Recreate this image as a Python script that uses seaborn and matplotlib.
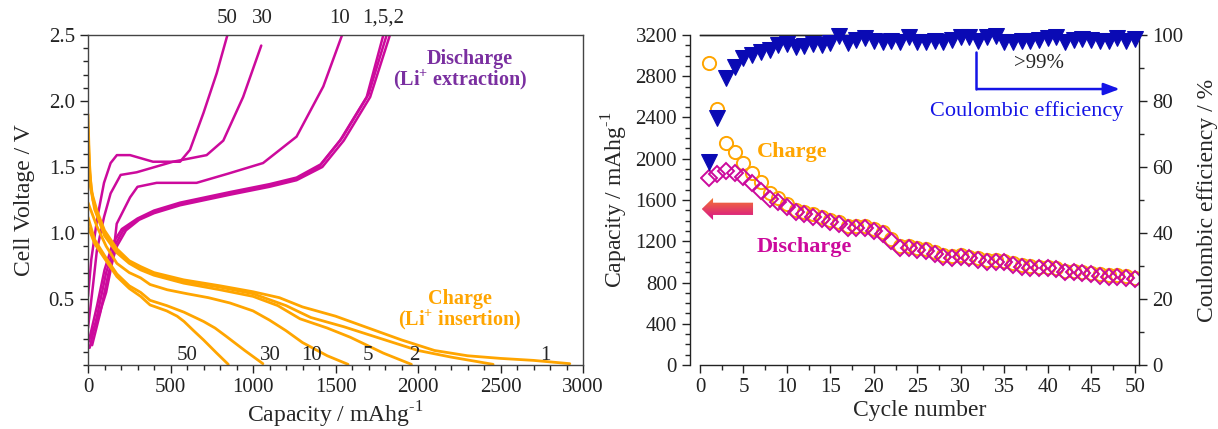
import numpy as np
import pandas as pd
import matplotlib
matplotlib.use("Agg")
import matplotlib.pyplot as plt
import matplotlib.transforms as mtransforms
import seaborn as sns
from matplotlib.ticker import MultipleLocator
from matplotlib.patches import Polygon
from matplotlib.colors import LinearSegmentedColormap

# ---------------- left panel: voltage profiles (capacity mAh/g, voltage V)
charge_1 = [(0, 1.90), (8, 1.55), (20, 1.32), (54, 1.17), (100, 1.02), (175, 0.88), (250, 0.79),
            (320, 0.745), (400, 0.70), (580, 0.645), (800, 0.60), (1000, 0.555), (1160, 0.51),
            (1300, 0.44), (1500, 0.37), (1700, 0.28), (1900, 0.19), (2100, 0.11), (2300, 0.07),
            (2500, 0.05), (2700, 0.035), (2920, 0.01)]
charge_2 = [(0, 1.80), (10, 1.45), (30, 1.25), (60, 1.13), (100, 1.00), (175, 0.86), (250, 0.78),
            (320, 0.73), (400, 0.69), (580, 0.635), (800, 0.59), (1000, 0.54), (1200, 0.45),
            (1350, 0.36), (1550, 0.29), (1800, 0.19), (2000, 0.11), (2200, 0.06), (2455, 0.005)]
charge_5 = [(0, 1.70), (15, 1.35), (40, 1.18), (100, 0.98), (175, 0.85), (250, 0.77), (320, 0.72),
            (400, 0.68), (580, 0.62), (800, 0.57), (1000, 0.52), (1150, 0.45), (1285, 0.35),
            (1450, 0.28), (1590, 0.21), (1790, 0.09), (1960, 0.005)]
charge_10 = [(0, 1.23), (54, 1.05), (110, 0.90), (175, 0.77), (250, 0.70), (319, 0.66), (376, 0.61),
             (480, 0.57), (600, 0.54), (730, 0.51), (860, 0.47), (1000, 0.41), (1100, 0.34),
             (1200, 0.26), (1300, 0.17), (1450, 0.07), (1576, 0.005)]
charge_30 = [(0, 1.12), (40, 0.95), (115, 0.80), (175, 0.69), (250, 0.60), (319, 0.55), (376, 0.49),
             (477, 0.45), (582, 0.40), (700, 0.33), (770, 0.28), (840, 0.215), (950, 0.11),
             (1060, 0.01)]
charge_50 = [(0, 1.05), (40, 0.92), (115, 0.78), (175, 0.67), (250, 0.58), (319, 0.52), (376, 0.455),
             (477, 0.41), (540, 0.37), (582, 0.33), (640, 0.26), (700, 0.19), (780, 0.09),
             (850, 0.005)]

discharge_1 = [(10, 0.13), (60, 0.40), (110, 0.70), (160, 0.90), (214, 1.02), (300, 1.10), (400, 1.16),
               (558, 1.22), (860, 1.30), (1100, 1.36), (1264, 1.41), (1400, 1.50), (1527, 1.70),
               (1689, 2.03), (1790, 2.50)]
discharge_2 = [(25, 0.15), (75, 0.40), (125, 0.70), (175, 0.90), (230, 1.02), (310, 1.10), (400, 1.15),
               (558, 1.21), (860, 1.29), (1100, 1.35), (1264, 1.40), (1420, 1.50), (1550, 1.70),
               (1710, 2.03), (1830, 2.50)]
discharge_5 = [(5, 0.18), (55, 0.45), (100, 0.72), (150, 0.92), (205, 1.03), (300, 1.11), (400, 1.17),
               (558, 1.23), (860, 1.31), (1100, 1.37), (1264, 1.42), (1410, 1.52), (1540, 1.72),
               (1700, 2.05), (1810, 2.50)]
discharge_10 = [(0, 0.17), (60, 0.35), (110, 0.55), (150, 0.80), (174, 1.07), (255, 1.27), (300, 1.35),
                (416, 1.38), (658, 1.38), (850, 1.45), (1061, 1.53), (1264, 1.73), (1426, 2.11),
                (1540, 2.50)]
discharge_30 = [(0, 0.28), (30, 0.60), (54, 0.87), (97, 1.12), (137, 1.30), (198, 1.44), (295, 1.46),
                (515, 1.54), (719, 1.59), (820, 1.70), (940, 2.03), (1050, 2.42)]
discharge_50 = [(0, 0.52), (20, 0.80), (57, 1.12), (97, 1.38), (137, 1.53), (175, 1.59), (255, 1.59),
                (394, 1.54), (558, 1.54), (618, 1.63), (700, 1.91), (780, 2.21), (845, 2.50)]

charge_curves = {"1": charge_1, "2": charge_2, "5": charge_5, "10": charge_10,
                 "30": charge_30, "50": charge_50}
discharge_curves = {"1": discharge_1, "2": discharge_2, "5": discharge_5, "10": discharge_10,
                    "30": discharge_30, "50": discharge_50}

# ---------------- right panel: cycling data
cycles = list(range(1, 51))
charge_capacity = [2926, 2479, 2156, 2069, 1956, 1859, 1778, 1671, 1616, 1565,
                   1505, 1480, 1460, 1438, 1410, 1385, 1350, 1345, 1350, 1320,
                   1288, 1222, 1152, 1158, 1135, 1125, 1095, 1070, 1055, 1068,
                   1052, 1036, 1020, 1020, 1012, 988, 970, 960, 953, 953,
                   945, 915, 914, 905, 895, 882, 872, 872, 862, 848]
discharge_capacity = [1810, 1852, 1885, 1865, 1823, 1762, 1690, 1610, 1584, 1530,
                      1485, 1460, 1440, 1416, 1390, 1364, 1332, 1325, 1332, 1299,
                      1267, 1202, 1131, 1138, 1115, 1105, 1073, 1050, 1034, 1050,
                      1034, 1018, 1002, 1002, 995, 970, 953, 944, 937, 937,
                      928, 899, 899, 889, 879, 866, 857, 857, 847, 834]
coulombic_eff = [61.6, 74.8, 87.0, 90.2, 93.0, 94.0, 94.8, 95.6, 97.0, 97.2,
                 96.5, 96.8, 97.2, 97.0, 97.6, 99.6, 97.6, 98.4, 99.2, 98.2,
                 97.8, 98.2, 97.9, 99.3, 98.0, 97.9, 98.3, 98.0, 98.4, 99.4,
                 99.5, 98.2, 99.4, 99.6, 98.0, 97.9, 98.1, 98.3, 98.5, 99.2,
                 99.3, 98.0, 98.4, 98.9, 98.5, 98.1, 98.3, 99.0, 98.2, 98.8]

ORANGE = "#ffa500"
MAGENTA = "#cc0a9c"
PURPLE = "#7a2fa0"
NAVY = "#0a0ab4"
BLUE = "#1414e6"


def to_frame(curves):
    rows = []
    for cyc, pts in curves.items():
        for i, (c, v) in enumerate(pts):
            rows.append({"cycle": cyc, "order": i, "capacity": c, "voltage": v})
    return pd.DataFrame(rows)


sns.set_theme(style="ticks")
plt.rcParams["font.family"] = ["Liberation Serif", "DejaVu Serif"]
plt.rcParams["mathtext.fontset"] = "custom"
plt.rcParams["mathtext.rm"] = "Liberation Serif"
plt.rcParams["mathtext.bf"] = "Liberation Serif:bold"
plt.rcParams["axes.linewidth"] = 1.0
plt.rcParams["xtick.direction"] = "out"
plt.rcParams["ytick.direction"] = "out"

fig = plt.figure(figsize=(12.18, 4.29), dpi=100)
ax1 = fig.add_axes([88 / 1218, 64 / 429, 495 / 1218, 330 / 429])
ax2 = fig.add_axes([700 / 1218, 64 / 429, 439 / 1218, 330 / 429])

TICK_FS = 15
LAB_FS = 17
ANN_FS = 16
CAP_LABEL = r"Capacity / mAhg$^{\text{-1}}$"

# ---------- left panel
ch = to_frame(charge_curves)
dis = to_frame(discharge_curves)
sns.lineplot(data=dis, x="capacity", y="voltage", units="cycle", estimator=None, sort=False,
             color=MAGENTA, lw=1.8, ax=ax1, legend=False)
sns.lineplot(data=ch, x="capacity", y="voltage", units="cycle", estimator=None, sort=False,
             color=ORANGE, lw=2.0, ax=ax1, legend=False)
ax1.set_xlim(0, 3000)
ax1.set_ylim(0, 2.5)
ax1.set_yticks([0.5, 1.0, 1.5, 2.0, 2.5])
ax1.set_yticklabels(["0.5", "1.0", "1.5", "2.0", "2.5"])
ax1.xaxis.set_major_locator(MultipleLocator(500))
ax1.xaxis.set_minor_locator(MultipleLocator(100))
ax1.yaxis.set_minor_locator(MultipleLocator(0.1))
ax1.tick_params(which="major", length=6, width=1, labelsize=TICK_FS, colors="#222222",
                top=False, right=False)
ax1.tick_params(which="minor", length=3.5, width=1, top=False, right=False)
ax1.set_xlabel(CAP_LABEL, fontsize=LAB_FS, labelpad=2)
ax1.set_ylabel("Cell Voltage / V", fontsize=LAB_FS, labelpad=10)
for s in ax1.spines.values():
    s.set_color("#444444")

top_tr = mtransforms.blended_transform_factory(ax1.transData, ax1.transAxes)
for lab, xc in zip(["50", "30", "10", "1,5,2"], [845, 1055, 1527, 1788]):
    ax1.text(xc, 1.05, lab, transform=top_tr, ha="center", va="center", fontsize=TICK_FS)
for lab, xc in zip(["50", "30", "10", "5", "2", "1"], [600, 1103, 1352, 1697, 1976, 2770]):
    ax1.text(xc, 0.075, lab, ha="center", va="center", fontsize=TICK_FS)

ax1.text(2315, 2.32, "Discharge", color=PURPLE, fontsize=14.5, fontweight="bold",
         ha="center", va="center")
ax1.text(2255, 2.16, r"(Li$^{\mathbf{+}}$ extraction)", color=PURPLE, fontsize=14.5,
         fontweight="bold", ha="center", va="center")
ax1.text(2255, 0.50, "Charge", color=ORANGE, fontsize=14.5, fontweight="bold",
         ha="center", va="center")
ax1.text(2255, 0.34, r"(Li$^{\mathbf{+}}$ insertion)", color=ORANGE, fontsize=14.5,
         fontweight="bold", ha="center", va="center")

# ---------- right panel
cyc_df = pd.DataFrame({"cycle": cycles, "charge": charge_capacity,
                       "discharge": discharge_capacity, "ce": coulombic_eff})
sns.lineplot(data=cyc_df, x="cycle", y="charge", ax=ax2, linestyle="", marker="o",
             markersize=9.5, markerfacecolor="none", markeredgecolor=ORANGE,
             markeredgewidth=1.4, zorder=3)
sns.lineplot(data=cyc_df, x="cycle", y="discharge", ax=ax2, linestyle="", marker="D",
             markersize=8.5, markerfacecolor="none", markeredgecolor=MAGENTA,
             markeredgewidth=1.4, zorder=4)
ax2.set_xlim(0, 50.5)
ax2.set_ylim(0, 3200)
ax2.xaxis.set_major_locator(MultipleLocator(5))
ax2.xaxis.set_minor_locator(MultipleLocator(2.5))
ax2.yaxis.set_major_locator(MultipleLocator(400))
ax2.yaxis.set_minor_locator(MultipleLocator(100))
ax2.spines["left"].set_position(("outward", 7))
ax2.spines["right"].set_visible(False)
ax2.tick_params(which="major", length=6, width=1, labelsize=TICK_FS, colors="#222222",
                top=False, right=False)
ax2.tick_params(which="minor", length=3.5, width=1, top=False, right=False)
ax2.set_xlabel("Cycle number", fontsize=LAB_FS, labelpad=2)
ax2.set_ylabel(CAP_LABEL, fontsize=LAB_FS, labelpad=4)

ax3 = ax2.twinx()
sns.lineplot(data=cyc_df, x="cycle", y="ce", ax=ax3, linestyle="", marker="v",
             markersize=11.5, color=NAVY, markeredgecolor=NAVY, zorder=5, clip_on=False)
ax3.set_ylim(0, 100)
ax3.set_xlim(0, 50.5)
ax3.yaxis.set_major_locator(MultipleLocator(20))
ax3.yaxis.set_minor_locator(MultipleLocator(10))
ax3.spines["left"].set_visible(False)
ax3.spines["bottom"].set_visible(False)
ax3.tick_params(which="major", length=6, width=1, labelsize=TICK_FS, colors="#222222")
ax3.tick_params(which="minor", length=3.5, width=1)
ax3.set_ylabel("Coulombic efficiency / %", fontsize=LAB_FS, labelpad=10)
for a in (ax2, ax3):
    for s in a.spines.values():
        s.set_color("#222222")

# annotations on the cycling panel
ax2.text(10.6, 2069, "Charge", color=ORANGE, fontsize=ANN_FS, fontweight="bold",
         ha="center", va="center")
ax2.text(12.0, 1147, "Discharge", color=MAGENTA, fontsize=ANN_FS, fontweight="bold",
         ha="center", va="center")
ax2.text(39, 2919, ">99%", fontsize=TICK_FS, ha="center", va="center")
ax2.text(37.6, 2463, "Coulombic efficiency", color=BLUE, fontsize=ANN_FS,
         ha="center", va="center")
ax2.plot([31.7, 31.7], [3035, 2676], color=BLUE, lw=1.8, zorder=6)
ax2.annotate("", xy=(48.6, 2676), xytext=(31.6, 2676),
             arrowprops=dict(arrowstyle="-|>,head_length=0.8,head_width=0.3",
                             color=BLUE, lw=1.8), zorder=6)

arrow = Polygon([(0.2, 1513), (1.5, 1620), (1.5, 1574), (6.1, 1574), (6.1, 1455),
                 (1.5, 1455), (1.5, 1406)], closed=True, facecolor="none", edgecolor="none")
ax2.add_patch(arrow)
grad = np.linspace(0, 1, 64).reshape(-1, 1)
cmap = LinearSegmentedColormap.from_list("og", ["#f5792c", "#d7108f"])
ax2.imshow(grad, extent=(0.2, 6.1, 1406, 1620), origin="upper", cmap=cmap,
           aspect="auto", clip_path=arrow, zorder=6)
ax2.set_xlim(0, 50.5)
ax2.set_ylim(0, 3200)

fig.savefig("out.png", dpi=100)
